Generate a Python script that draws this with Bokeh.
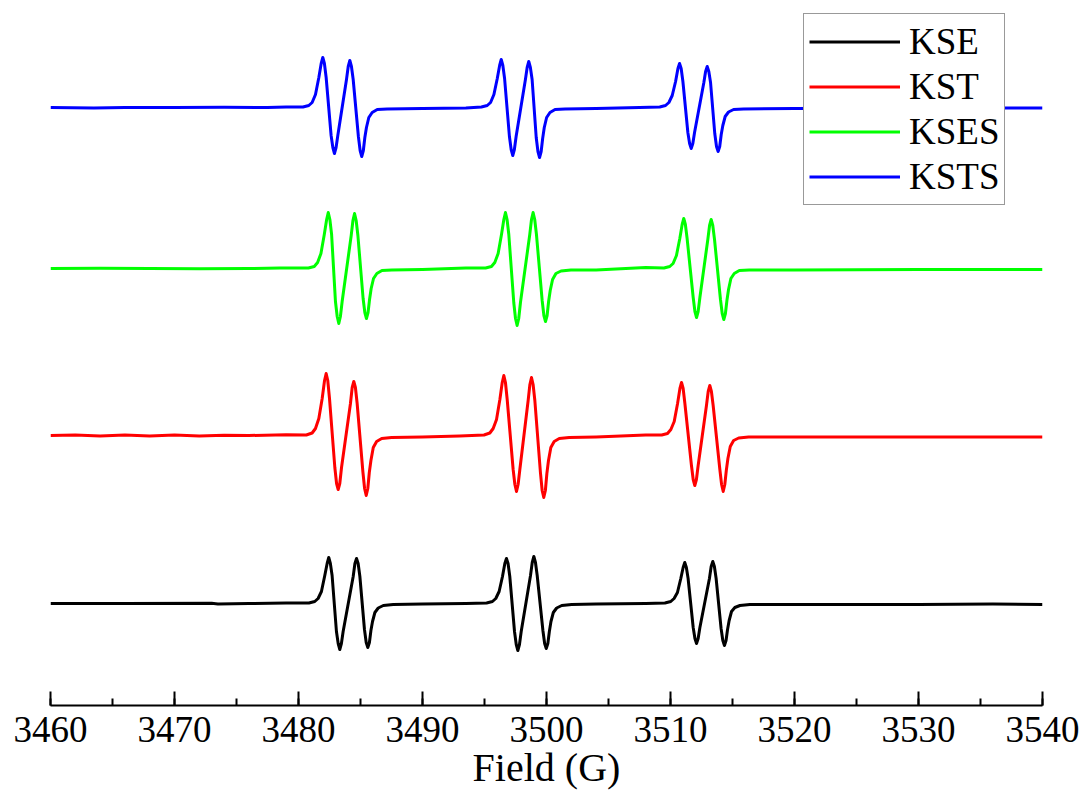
from bokeh.plotting import figure
from bokeh.models import Range1d, SingleIntervalTicker, Legend, LegendItem
from bokeh.embed import file_html
from bokeh.resources import INLINE

# ---- data (Field in G, intensity in arbitrary units above each trace's baseline)
field_kse = [3460, 3466, 3473, 3473.5, 3476, 3479,
             3480.84, 3481.31, 3481.58, 3481.85, 3482.12, 3482.31, 3482.44, 3482.57, 3482.71,
             3483.06, 3483.20, 3483.33, 3483.46, 3483.60, 3484.41, 3484.55, 3484.68, 3484.81, 3484.95,
             3485.32, 3485.46, 3485.59, 3485.72, 3485.84, 3485.97, 3486.16, 3486.43, 3486.84, 3487.64,
             3490, 3493.5,
             3495.17, 3495.64, 3495.91, 3496.18, 3496.45, 3496.64, 3496.77, 3496.90, 3497.04,
             3497.42, 3497.56, 3497.69, 3497.82, 3497.96, 3498.71, 3498.85, 3498.98, 3499.11, 3499.25,
             3499.71, 3499.85, 3499.98, 3500.11, 3500.23, 3500.36, 3500.55, 3500.82, 3501.23, 3502.03,
             3504, 3508,
             3509.55, 3510.02, 3510.29, 3510.56, 3510.83, 3511.02, 3511.15, 3511.28, 3511.42,
             3511.83, 3511.97, 3512.10, 3512.23, 3512.37, 3513.14, 3513.28, 3513.41, 3513.54, 3513.68,
             3514.08, 3514.22, 3514.35, 3514.48, 3514.60, 3514.73, 3514.92, 3515.19, 3515.60, 3516.40,
             3520, 3530, 3536, 3540]
int_kse = [0, 0, 0.2, -0.4, 0, 0.5,
           0.5, 2, 5, 12, 28, 40, 46, 40, 28,
           -28, -40, -46, -40, -28, 27, 40, 45, 40, 27,
           -26, -39, -44, -39, -27, -18, -9, -4.5, -2, -1,
           -0.5, 0,
           0.5, 2, 5, 12, 27, 40, 45, 40, 27,
           -28, -41, -47, -41, -28, 28, 41, 47, 41, 28,
           -27, -40, -45, -40, -28, -18, -9, -4.5, -2, -1,
           -0.5, 0,
           0.5, 2, 5, 11, 25, 36, 41, 36, 25,
           -24, -35, -40, -35, -24, 25, 37, 42, 37, 25,
           -25, -37, -42, -37, -26, -17, -8, -4, -2, -1,
           -1, -1, -0.5, -1]

field_kst = [3460, 3462, 3464, 3466, 3468, 3470, 3472, 3474, 3476, 3479,
             3480.63, 3481.10, 3481.37, 3481.64, 3481.91, 3482.10, 3482.23, 3482.36, 3482.50,
             3482.93, 3483.07, 3483.20, 3483.33, 3483.47, 3484.19, 3484.33, 3484.46, 3484.59, 3484.73,
             3485.19, 3485.33, 3485.46, 3485.59, 3485.71, 3485.84, 3486.03, 3486.30, 3486.71, 3487.51,
             3490, 3493,
             3494.96, 3495.43, 3495.70, 3495.97, 3496.24, 3496.43, 3496.56, 3496.69, 3496.83,
             3497.31, 3497.45, 3497.58, 3497.71, 3497.85, 3498.52, 3498.66, 3498.79, 3498.92, 3499.06,
             3499.51, 3499.65, 3499.78, 3499.91, 3500.03, 3500.16, 3500.35, 3500.62, 3501.03, 3501.83,
             3504, 3508,
             3509.29, 3509.76, 3510.03, 3510.30, 3510.57, 3510.76, 3510.89, 3511.02, 3511.16,
             3511.69, 3511.83, 3511.96, 3512.09, 3512.23, 3512.90, 3513.04, 3513.17, 3513.30, 3513.44,
             3513.98, 3514.12, 3514.25, 3514.38, 3514.50, 3514.63, 3514.82, 3515.09, 3515.50, 3516.30,
             3520, 3540]
int_kst = [0, 0.6, -0.4, 0.5, -0.5, 0.4, -0.5, 0.3, 0, 0.8,
           0.5, 2.5, 7, 17, 37, 55, 62, 55, 37,
           -32, -48, -54, -48, -32, 32, 48, 54, 48, 32,
           -36, -53, -60, -53, -37, -25, -12, -6, -3, -2,
           -1.5, -0.5,
           0.5, 2.5, 7, 16, 36, 53, 60, 53, 36,
           -34, -49, -56, -49, -34, 35, 51, 58, 51, 35,
           -37, -55, -62, -55, -38, -25, -12, -6, -3, -2,
           -1.5, 0.5,
           0.5, 2, 6, 14, 32, 47, 53, 47, 32,
           -30, -44, -50, -44, -30, 30, 44, 50, 44, 30,
           -34, -49, -56, -49, -35, -23, -11, -5, -2.5, -1.5,
           -1.5, -1.5]

field_kses = [3460, 3464, 3468, 3472, 3476, 3478.5,
              3480.80, 3481.27, 3481.54, 3481.81, 3482.08, 3482.27, 3482.40, 3482.53, 3482.67,
              3482.98, 3483.12, 3483.25, 3483.38, 3483.52, 3484.25, 3484.39, 3484.52, 3484.65, 3484.79,
              3485.21, 3485.35, 3485.48, 3485.61, 3485.73, 3485.86, 3486.05, 3486.32, 3486.73, 3487.53,
              3490, 3493.5,
              3495.09, 3495.56, 3495.83, 3496.10, 3496.37, 3496.56, 3496.69, 3496.82, 3496.96,
              3497.36, 3497.50, 3497.63, 3497.76, 3497.90, 3498.65, 3498.79, 3498.92, 3499.05, 3499.19,
              3499.65, 3499.79, 3499.92, 3500.05, 3500.17, 3500.30, 3500.49, 3500.76, 3501.17, 3501.97,
              3504, 3508,
              3509.47, 3509.94, 3510.21, 3510.48, 3510.75, 3510.94, 3511.07, 3511.20, 3511.34,
              3511.83, 3511.97, 3512.10, 3512.23, 3512.37, 3513.01, 3513.15, 3513.28, 3513.41, 3513.55,
              3514.03, 3514.17, 3514.30, 3514.43, 3514.55, 3514.68, 3514.87, 3515.14, 3515.55, 3516.35,
              3520, 3530, 3540]
int_kses = [0, 0.3, 0, -0.3, 0, 0.5,
            0.5, 2, 6, 15, 34, 49, 56, 49, 34,
            -33, -48, -55, -48, -33, 33, 48, 55, 48, 33,
            -30, -44, -50, -44, -31, -20, -10, -5, -2, -1.5,
            -1, 0.5,
            0.5, 2, 6, 15, 34, 49, 56, 49, 34,
            -34, -50, -57, -50, -34, 34, 49, 56, 49, 34,
            -32, -47, -53, -47, -33, -22, -11, -5, -2.5, -1.5,
            -1.5, 1,
            0.5, 2, 5, 13, 30, 44, 50, 44, 30,
            -29, -43, -49, -43, -29, 29, 43, 49, 43, 29,
            -31, -45, -51, -45, -32, -21, -10, -5, -2, -1.5,
            -1.5, -1, -1]

field_ksts = [3460, 3463.5, 3466, 3470, 3474, 3477.5, 3479,
              3480.36, 3480.83, 3481.10, 3481.37, 3481.64, 3481.83, 3481.96, 3482.09, 3482.23,
              3482.63, 3482.77, 3482.90, 3483.03, 3483.17, 3483.87, 3484.01, 3484.14, 3484.27, 3484.41,
              3484.83, 3484.97, 3485.10, 3485.23, 3485.35, 3485.48, 3485.67, 3485.94, 3486.35, 3487.15,
              3490, 3493.5,
              3494.75, 3495.22, 3495.49, 3495.76, 3496.03, 3496.22, 3496.35, 3496.48, 3496.62,
              3497.01, 3497.15, 3497.28, 3497.41, 3497.55, 3498.30, 3498.44, 3498.57, 3498.70, 3498.84,
              3499.17, 3499.31, 3499.44, 3499.57, 3499.69, 3499.82, 3500.01, 3500.28, 3500.69, 3501.49,
              3504, 3507.5,
              3509.13, 3509.60, 3509.87, 3510.14, 3510.41, 3510.60, 3510.73, 3510.86, 3511.00,
              3511.40, 3511.54, 3511.67, 3511.80, 3511.94, 3512.69, 3512.83, 3512.96, 3513.09, 3513.23,
              3513.57, 3513.71, 3513.84, 3513.97, 3514.09, 3514.22, 3514.41, 3514.68, 3515.09, 3515.89,
              3520, 3530, 3540]
int_ksts = [0, -0.5, 0, 0, 0.3, 0, 0.5,
            0.5, 2, 5, 13, 30, 44, 50, 44, 30,
            -28, -40, -46, -40, -28, 28, 41, 47, 41, 28,
            -29, -43, -49, -43, -30, -20, -10, -5, -2, -1.5,
            -1, -0.5,
            0.5, 2, 5, 13, 29, 42, 48, 42, 29,
            -29, -42, -48, -42, -29, 28, 40, 46, 40, 28,
            -30, -44, -50, -44, -31, -20, -10, -5, -2, -1.5,
            -1, 0,
            0.5, 2, 5, 12, 26, 39, 44, 39, 26,
            -25, -36, -41, -36, -25, 25, 36, 41, 36, 25,
            -26, -39, -44, -39, -27, -18, -9, -4.5, -2, -1.5,
            -1, -0.5, -0.5]

names = ["KSE", "KST", "KSES", "KSTS"]
fields = [field_kse, field_kst, field_kses, field_ksts]
intensities = [int_kse, int_kst, int_kses, int_ksts]
colors = ["#000000", "#ff0000", "#00ff00", "#0000ff"]
offsets = [102, 270, 437, 598]   # vertical stacking offset of each trace
x_title = "Field (G)"

FONT = "Liberation Serif"

p = figure(width=1083, height=803, output_backend="svg", toolbar_location=None,
           x_range=Range1d(3460, 3540), y_range=Range1d(0, 705),
           y_axis_location=None,
           min_border_left=50, min_border_right=41, min_border_top=0, min_border_bottom=98)
p.grid.visible = False
p.outline_line_color = None
p.background_fill_color = "white"
p.border_fill_color = "white"

ax = p.xaxis[0]
ax.ticker = SingleIntervalTicker(interval=10, num_minor_ticks=2)
ax.axis_line_width = 2
ax.axis_line_color = "black"
ax.major_tick_line_width = 2
ax.minor_tick_line_width = 2
ax.major_tick_line_color = "black"
ax.minor_tick_line_color = "black"
ax.major_tick_in = 14
ax.major_tick_out = 0
ax.minor_tick_in = 7
ax.minor_tick_out = 0
ax.major_label_text_font = FONT
ax.major_label_text_font_size = "37px"
ax.major_label_text_color = "black"
ax.major_label_standoff = 11
ax.axis_label = x_title
ax.axis_label_text_font = FONT
ax.axis_label_text_font_size = "40px"
ax.axis_label_text_font_style = "normal"
ax.axis_label_text_color = "black"
ax.axis_label_standoff = 0

items = []
for name, fx, iy, c, off in zip(names, fields, intensities, colors, offsets):
    ys = [v + off for v in iy]
    r = p.line(fx, ys, line_color=c, line_width=3, line_join="round")
    items.append(LegendItem(label=name, renderers=[r]))

legend = Legend(items=items, location=(753, 500), margin=0, padding=5, spacing=0,
                glyph_width=91, glyph_height=45, label_height=45, label_standoff=9,
                label_text_font=FONT, label_text_font_size="37px", label_text_color="black",
                border_line_color="#333333", border_line_width=1.5,
                background_fill_color="white", background_fill_alpha=1.0)
p.add_layout(legend)

open("out.html", "w").write(file_html(p, INLINE))
